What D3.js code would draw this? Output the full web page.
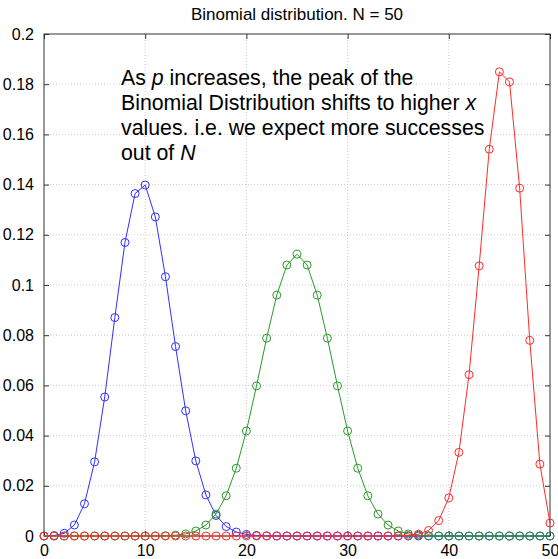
<!DOCTYPE html>
<html>
<head>
<meta charset="utf-8">
<script src="https://cdn.jsdelivr.net/npm/d3@7"></script>
<style>
  body { margin: 0; background: #fff; }
  text { font-family: "Liberation Sans", Arial, sans-serif; fill: #000; }
</style>
</head>
<body>
<svg></svg>
<script>
var width = 558,
	height = 559;

// x = number of successes, 0..50
var successes = d3.range(0, 51);

// p = 0.2
var pLow = [0.0000143, 0.000178, 0.001093, 0.004371, 0.01284, 0.02953, 0.05538, 0.08702, 0.11693, 0.13642,
	0.13983, 0.12712, 0.10329, 0.07548, 0.04987, 0.02992, 0.01636, 0.008182, 0.00375, 0.001579,
	0.000612, 0.000218, 0.000072, 0.0000219, 0.0000062, 0, 0, 0, 0, 0,
	0, 0, 0, 0, 0, 0, 0, 0, 0, 0,
	0, 0, 0, 0, 0, 0, 0, 0, 0, 0, 0];

// p = 0.5
var pMid = [0, 0, 0, 0, 0, 0, 0, 0, 0, 0.000002,
	0.0000091, 0.0000332, 0.000108, 0.000315, 0.000833, 0.001999, 0.004373, 0.008746, 0.016035, 0.027006,
	0.041859, 0.059799, 0.078826, 0.095962, 0.107957, 0.112275, 0.107957, 0.095962, 0.078826, 0.059799,
	0.041859, 0.027006, 0.016035, 0.008746, 0.004373, 0.001999, 0.000833, 0.000315, 0.000108, 0.0000332,
	0.0000091, 0.000002, 0, 0, 0, 0, 0, 0, 0, 0, 0];

// p = 0.9
var pHigh = [0, 0, 0, 0, 0, 0, 0, 0, 0, 0,
	0, 0, 0, 0, 0, 0, 0, 0, 0, 0,
	0, 0, 0, 0, 0, 0, 0, 0, 0, 0,
	0, 0, 0, 0, 0.0000137, 0.0000563, 0.000211, 0.00072, 0.002215, 0.006135,
	0.015183, 0.033329, 0.064277, 0.107627, 0.154103, 0.184924, 0.180904, 0.138565, 0.077943, 0.028632, 0.005154];

var seriesColors = ["#3030ff", "#2a9a2a", "#ff2a2a"];
var xTicks = [0, 10, 20, 30, 40, 50];
var yTicks = [0, 0.02, 0.04, 0.06, 0.08, 0.1, 0.12, 0.14, 0.16, 0.18, 0.2];
var titleText = "Binomial distribution. N = 50";

var pLeft = 44, pRight = 550, pTop = 34, pBottom = 536;

var svg = d3.select("svg")
			.attr("width", width)
			.attr("height", height);

var x = d3.scaleLinear().domain([0, 50]).range([pLeft, pRight]);
var y = d3.scaleLinear().domain([0, 0.2]).range([pBottom, pTop]);

// dotted grid
var grid = svg.append("g");
grid.selectAll(".gx")
	.data(xTicks.slice(1, -1))
	.enter().append("line")
	.attr("x1", function(d) { return x(d); })
	.attr("x2", function(d) { return x(d); })
	.attr("y1", pTop).attr("y2", pBottom)
	.attr("stroke", "#cccccc")
	.attr("stroke-dasharray", "1,2");
grid.selectAll(".gy")
	.data(yTicks.slice(1, -1))
	.enter().append("line")
	.attr("y1", function(d) { return y(d); })
	.attr("y2", function(d) { return y(d); })
	.attr("x1", pLeft).attr("x2", pRight)
	.attr("stroke", "#cccccc")
	.attr("stroke-dasharray", "1,2");

// axes, ticks inside like matlab
var axisColor = "#333";
svg.append("g")
	.attr("transform", "translate(0," + pBottom + ")")
	.call(d3.axisBottom(x).tickValues(xTicks).tickSizeInner(-5).tickSizeOuter(0).tickPadding(9))
	.call(function(g) {
		g.select(".domain").remove();
		g.selectAll("line").attr("stroke", axisColor);
		g.selectAll("text").style("font-size", "16px").attr("font-family", null);
	});
svg.append("g")
	.attr("transform", "translate(0," + pTop + ")")
	.call(d3.axisTop(x).tickValues(xTicks).tickSizeInner(-5).tickSizeOuter(0).tickFormat(""))
	.call(function(g) {
		g.select(".domain").remove();
		g.selectAll("line").attr("stroke", axisColor);
	});
svg.append("g")
	.attr("transform", "translate(" + pLeft + ",0)")
	.call(d3.axisLeft(y).tickValues(yTicks).tickSizeInner(-5).tickSizeOuter(0).tickPadding(10).tickFormat(d3.format("~g")))
	.call(function(g) {
		g.select(".domain").remove();
		g.selectAll("line").attr("stroke", axisColor);
		g.selectAll("text").style("font-size", "16px").attr("font-family", null);
	});
svg.append("g")
	.attr("transform", "translate(" + pRight + ",0)")
	.call(d3.axisRight(y).tickValues(yTicks).tickSizeInner(-5).tickSizeOuter(0).tickFormat(""))
	.call(function(g) {
		g.select(".domain").remove();
		g.selectAll("line").attr("stroke", axisColor);
	});

svg.append("rect")
	.attr("x", pLeft).attr("y", pTop)
	.attr("width", pRight - pLeft).attr("height", pBottom - pTop)
	.attr("fill", "none")
	.attr("stroke", axisColor);

// series
var series = [pLow, pMid, pHigh];
var line = d3.line()
	.x(function(d, i) { return x(successes[i]); })
	.y(function(d) { return y(d); });

series.forEach(function(vals, s) {
	var g = svg.append("g");
	g.append("path")
		.attr("d", line(vals))
		.attr("fill", "none")
		.attr("stroke", seriesColors[s])
		.attr("stroke-width", 1);
	g.selectAll("circle")
		.data(vals)
		.enter()
		.append("circle")
		.attr("cx", function(d, i) { return x(successes[i]); })
		.attr("cy", function(d) { return y(d); })
		.attr("r", 4)
		.attr("fill", "none")
		.attr("stroke", seriesColors[s])
		.attr("stroke-width", 1);
});

// title
svg.append("text")
	.attr("x", (pLeft + pRight) / 2)
	.attr("y", 20)
	.attr("text-anchor", "middle")
	.style("font-size", "17px")
	.text(titleText);

// annotation
var note = svg.append("text")
	.attr("x", 121)
	.attr("y", 85)
	.style("font-size", "21.3px");
var l1 = note.append("tspan").attr("x", 121).attr("y", 85);
l1.append("tspan").text("As ");
l1.append("tspan").style("font-style", "italic").text("p");
l1.append("tspan").text(" increases, the peak of the");
var l2 = note.append("tspan").attr("x", 121).attr("y", 110);
l2.append("tspan").text("Binomial Distribution shifts to higher ");
l2.append("tspan").style("font-style", "italic").text("x");
note.append("tspan").attr("x", 121).attr("y", 135).text("values. i.e. we expect more successes");
var l4 = note.append("tspan").attr("x", 121).attr("y", 160);
l4.append("tspan").text("out of ");
l4.append("tspan").style("font-style", "italic").text("N");
</script>
</body>
</html>
